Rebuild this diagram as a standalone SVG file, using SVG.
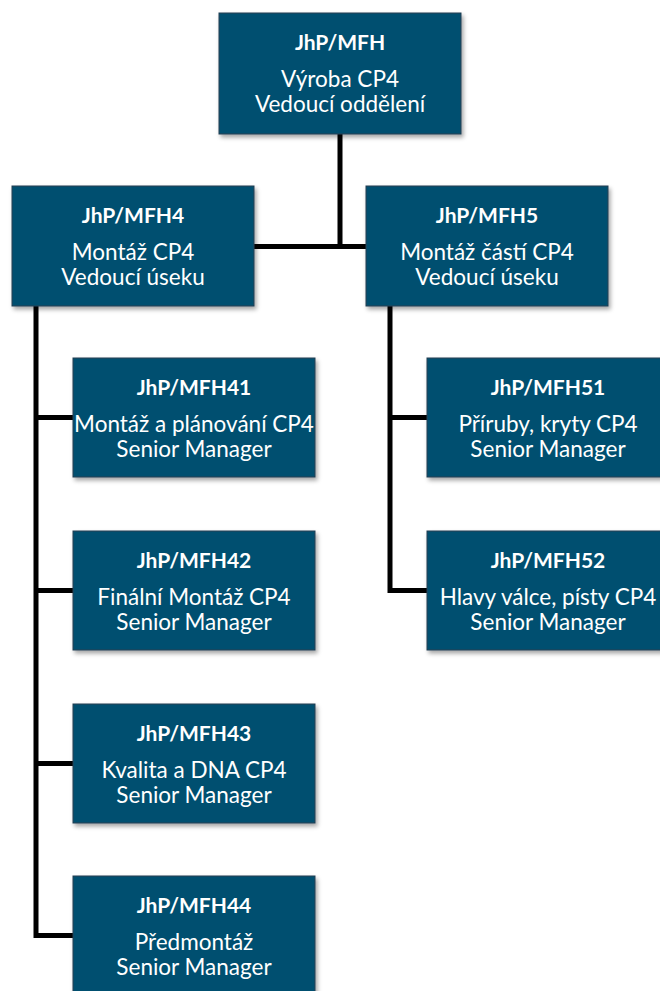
<svg xmlns="http://www.w3.org/2000/svg" width="660" height="991" viewBox="0 0 660 991">
<defs>
<filter id="sh" x="-10%" y="-10%" width="130%" height="130%">
<feDropShadow dx="2" dy="3" stdDeviation="2" flood-color="#000" flood-opacity="0.35"/>
</filter>
<style>
.box{fill:#06506f;stroke:#1f3f52;stroke-width:1;filter:url(#sh)}
.t{font-family:Lato,"Open Sans","Liberation Sans",sans-serif;font-size:22.5px;fill:#fff;text-anchor:middle}
.b{font-weight:bold;font-size:21px}
.c{fill:none;stroke:#000;stroke-width:5;stroke-linejoin:miter;stroke-linecap:square}
</style>
</defs>
<rect width="660" height="991" fill="#fff"/>
<g id="connectors">
<path class="c" d="M340,134 V246.5 M256,246.5 H364"/>
<path class="c" d="M36,308 V935.5 H71 M36,417.5 H71 M36,590.5 H71 M36,763.5 H71"/>
<path class="c" d="M390,308 V590.5 H425 M390,417.5 H425"/>
</g>
<g id="n0"><rect class="box" x="219" y="13" width="242" height="121"/>
<text class="t b" x="340" y="50">JhP/MFH</text><text class="t" x="340" y="87">Výroba CP4</text><text class="t" x="340" y="112">Vedoucí oddělení</text></g>
<g id="n4"><rect class="box" x="12" y="186" width="242" height="120"/>
<text class="t b" x="133" y="223">JhP/MFH4</text><text class="t" x="133" y="260">Montáž CP4</text><text class="t" x="133" y="285">Vedoucí úseku</text></g>
<g id="n5"><rect class="box" x="366" y="186" width="242" height="120"/>
<text class="t b" x="487" y="223">JhP/MFH5</text><text class="t" x="487" y="260">Montáž částí CP4</text><text class="t" x="487" y="285">Vedoucí úseku</text></g>
<g id="n41"><rect class="box" x="73" y="358" width="242" height="119"/>
<text class="t b" x="194" y="395">JhP/MFH41</text><text class="t" x="194" y="432">Montáž a plánování CP4</text><text class="t" x="194" y="457">Senior Manager</text></g>
<g id="n42"><rect class="box" x="73" y="531" width="242" height="119"/>
<text class="t b" x="194" y="568">JhP/MFH42</text><text class="t" x="194" y="605">Finální Montáž CP4</text><text class="t" x="194" y="630">Senior Manager</text></g>
<g id="n43"><rect class="box" x="73" y="704" width="242" height="119"/>
<text class="t b" x="194" y="741">JhP/MFH43</text><text class="t" x="194" y="778">Kvalita a DNA CP4</text><text class="t" x="194" y="803">Senior Manager</text></g>
<g id="n44"><rect class="box" x="73" y="876" width="242" height="119"/>
<text class="t b" x="194" y="913">JhP/MFH44</text><text class="t" x="194" y="950">Předmontáž</text><text class="t" x="194" y="975">Senior Manager</text></g>
<g id="n51"><rect class="box" x="427" y="358" width="242" height="119"/>
<text class="t b" x="548" y="395">JhP/MFH51</text><text class="t" x="548" y="432">Příruby, kryty CP4</text><text class="t" x="548" y="457">Senior Manager</text></g>
<g id="n52"><rect class="box" x="427" y="531" width="242" height="119"/>
<text class="t b" x="548" y="568">JhP/MFH52</text><text class="t" x="548" y="605">Hlavy válce, písty CP4</text><text class="t" x="548" y="630">Senior Manager</text></g>
</svg>
